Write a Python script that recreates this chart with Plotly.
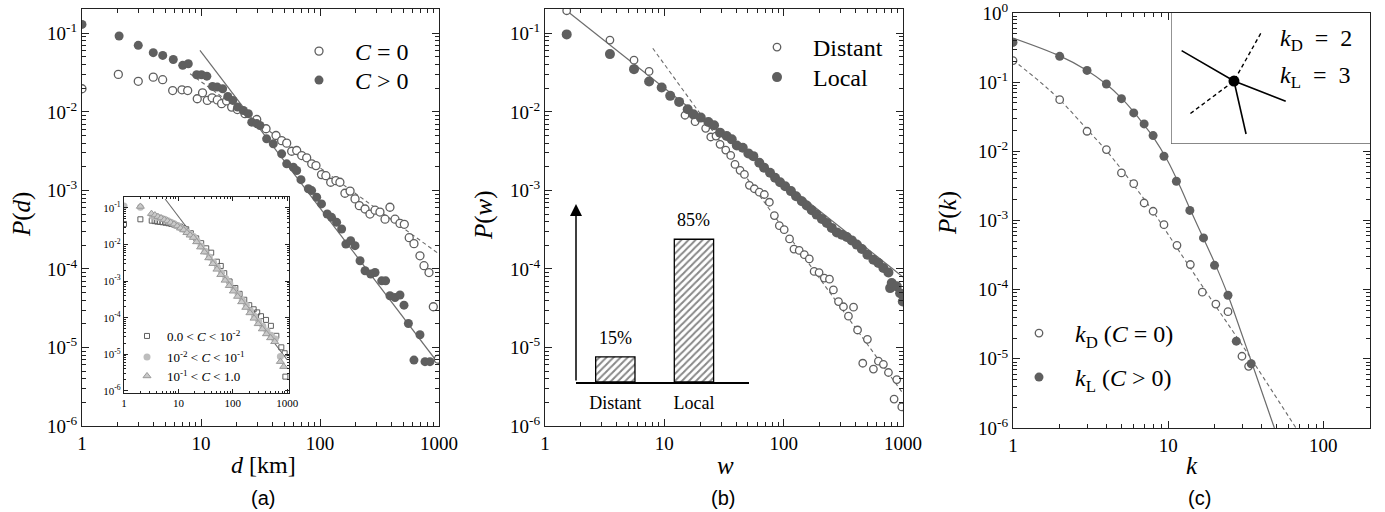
import plotly.graph_objects as go

# ---------------- data: panel (a) ----------------
d_C0 = [1, 2.02, 2.97, 3.97, 4.76, 5.78, 6.92, 7.73, 9.3, 10.3, 11.3, 12.4, 13.7, 14.9, 16.4, 18.1,
        20.2, 23.4, 29.4, 35.2, 42.7, 47.6, 52.5, 57.8, 63.7, 70.2, 77.3, 85.2, 92.5, 103, 112, 123,
        136, 147, 162, 179, 197, 214, 239, 263, 290, 319, 352, 387, 427, 470, 511, 562, 616, 692,
        748, 824, 896, 986]
P_C0 = [0.0197, 0.030, 0.0245, 0.0277, 0.0257, 0.0187, 0.0191, 0.0187, 0.0147, 0.0175, 0.0140,
        0.0151, 0.0142, 0.0127, 0.0138, 0.0115, 0.0107, 0.0095, 0.0080, 0.0061, 0.0050, 0.0043,
        0.0040, 0.00315, 0.00322, 0.00278, 0.0026, 0.00218, 0.00207, 0.00159, 0.00154, 0.00127,
        0.00133, 0.00127, 0.00092, 0.00098, 0.00078, 0.00064, 0.00058, 0.00050, 0.00056, 0.00053,
        0.00043, 0.00061, 0.00043, 0.00038, 0.00037, 0.00025, 0.00021, 0.000147, 0.00011, 0.00009,
        0.000033, 0.0000071]
d_Cpos = [1, 2.05, 2.97, 3.97, 4.77, 5.85, 7.02, 7.82, 9.2, 10.1, 11.2, 12.5, 13.7, 15.2, 16.8, 18.5,
          20.3, 22.7, 25, 26.7, 29.4, 31.3, 35.6, 40.5, 47.6, 52.5, 59.7, 63.7, 69.2, 79.8, 85.1, 93.8,
          103, 115, 125, 138, 152, 165, 181, 197, 217, 239, 267, 290, 330, 356, 387, 427, 470, 508,
          553, 616, 692, 763, 840]
P_Cpos = [0.130, 0.0924, 0.0703, 0.0568, 0.0524, 0.0465, 0.0391, 0.041, 0.0297, 0.0297, 0.0285,
          0.0211, 0.0207, 0.0197, 0.0157, 0.0140, 0.0115, 0.0104, 0.0095, 0.0074, 0.0071, 0.0067,
          0.00454, 0.00392, 0.00292, 0.00218, 0.00197, 0.00179, 0.00137, 0.00105, 0.000995, 0.000817,
          0.000673, 0.000501, 0.000454, 0.000392, 0.000323, 0.000207, 0.000229, 0.000198, 0.000127,
          0.0000948, 0.000086, 0.0000902, 0.0000706, 0.0000706, 0.0000455, 0.0000433, 0.0000465,
          0.0000346, 0.0000202, 0.0000069, 0.0000145, 0.0000066, 0.0000066]
fitA_solid_d = [9.8, 1000]
fitA_solid_P = [0.0607, 6.1e-6]
fitA_dash_d = [8.1, 1000]
fitA_dash_P = [0.0306, 1.55e-4]

# inset of panel (a)
sq_d = [1, 2, 3.23, 3.65, 4.1, 4.6, 5.15, 5.8, 6.55, 7.4, 8.33, 9.4, 10.7, 12.2, 13.9, 16.9, 21.2,
        26.2, 32.4, 40, 50.9, 60, 69.5, 87, 111, 133, 162, 200, 241, 280, 329, 407, 500, 629, 777,
        895, 922]
sq_P = [0.0366, 0.049, 0.045, 0.0437, 0.0423, 0.0415, 0.0406, 0.0395, 0.0382, 0.0367, 0.0351, 0.033,
        0.031, 0.0285, 0.0262, 0.0204, 0.0148, 0.0109, 0.0079, 0.006, 0.0034, 0.0026, 0.00165,
        0.00098, 0.00065, 0.00045, 0.00031, 0.00022, 0.00017, 0.00014, 0.00011, 8.7e-5, 6e-5,
        3.2e-5, 1.55e-5, 1.07e-5, 2.45e-6]
ci_d = [1, 2, 3.3, 3.8, 4.3, 4.9, 5.6, 6.4, 7.3, 8.4, 9.6, 11, 12.6, 14.5, 16.5, 19, 22, 26, 31, 37,
        44, 52, 62, 74, 88, 105, 125, 149, 177, 211, 251, 299, 356, 424, 505, 601, 746]
ci_P = [0.113, 0.105, 0.060, 0.058, 0.055, 0.052, 0.049, 0.045, 0.041, 0.037, 0.033, 0.029, 0.026,
        0.022, 0.019, 0.0165, 0.0127, 0.0091, 0.0066, 0.0046, 0.0033, 0.0024, 0.0017, 0.00118,
        0.00085, 0.0006, 0.00043, 0.0003, 0.00022, 0.000155, 0.00011, 8e-5, 5.8e-5, 4.3e-5, 3.3e-5,
        2.6e-5, 8.7e-6]
tr_d = [2, 3.2, 3.7, 4.2, 4.8, 5.5, 6.3, 7.2, 8.3, 9.5, 10.9, 12.5, 14.3, 16.4, 18.8, 21.6, 25.5, 30,
        36, 43, 51, 60, 72, 86, 102, 122, 145, 173, 206, 245, 292, 348, 414, 493, 587, 746, 859]
tr_P = [0.11, 0.070, 0.064, 0.058, 0.053, 0.048, 0.044, 0.040, 0.036, 0.032, 0.028, 0.025, 0.021,
        0.018, 0.0155, 0.0118, 0.0085, 0.0062, 0.0043, 0.003, 0.0021, 0.0015, 0.00105, 0.00075,
        0.00053, 0.00038, 0.00027, 0.00019, 0.000135, 9.6e-5, 6.8e-5, 4.9e-5, 3.6e-5, 2.8e-5,
        2.2e-5, 6.3e-6, 4.6e-6]
fitIn_d = [5.7, 1000]
fitIn_P = [0.176, 7e-6]

# ---------------- data: panel (b) ----------------
w_D = [1.52, 3.5, 5.57, 7.45, 14.9, 18.1, 22.2, 24.5, 27.1, 29.3, 32.7, 36, 39.1, 43.1, 46.9, 51.6,
       56.8, 62.5, 68.9, 75.9, 83.6, 92, 101, 112, 122, 135, 149, 164, 180, 198, 219, 242, 261, 288,
       317, 349, 385, 416, 460, 503, 565, 622, 685, 755, 842, 887, 977]
P_D = [0.194, 0.082, 0.0456, 0.0327, 0.00906, 0.0075, 0.00618, 0.00479, 0.00492, 0.00386, 0.00326,
       0.00279, 0.00214, 0.0018, 0.0016, 0.00116, 0.00105, 0.00095, 0.000887, 0.000707, 0.000478,
       0.000356, 0.000316, 0.000241, 0.000179, 0.000172, 0.000152, 0.000134, 9.3e-5, 9.0e-5,
       7.65e-5, 7.4e-5, 5.4e-5, 3.84e-5, 3.3e-5, 2.5e-5, 3.26e-5, 1.67e-5, 6.3e-6, 1.27e-5, 5.3e-6,
       6.7e-6, 6.1e-6, 4.8e-6, 2.2e-6, 3.9e-6, 1.75e-6]
w_L = [1.52, 3.5, 5.57, 7.45, 9.5, 11.2, 13.3, 15.7, 17.5, 20.2, 23.4, 26.1, 29.3, 33.3, 36.7, 40.5,
       45.4, 50.6, 55.7, 62.5, 68.5, 76.9, 84.7, 93.3, 103, 115, 127, 142, 156, 172, 189, 209, 230,
       253, 279, 307, 338, 372, 410, 452, 503, 565, 622, 685, 755, 780, 805, 887, 946, 996]
P_L = [0.097, 0.0544, 0.035, 0.0244, 0.0204, 0.0160, 0.0134, 0.0108, 0.0093, 0.00845, 0.00743,
       0.00675, 0.00544, 0.00492, 0.00447, 0.00374, 0.0035, 0.00296, 0.00273, 0.00225, 0.00195,
       0.00168, 0.00145, 0.00127, 0.00113, 0.00098, 0.000844, 0.000728, 0.000641, 0.000558,
       0.000492, 0.000434, 0.000385, 0.000333, 0.000292, 0.000273, 0.000255, 0.000231, 0.000204,
       0.000179, 0.000152, 0.000131, 0.000119, 0.000103, 9.0e-5, 5.7e-5, 6.6e-5, 6.0e-5, 4.9e-5,
       3.85e-5]
fitB_solid_w = [1.52, 1000]
fitB_solid_P = [0.194, 7.9e-5]
fitB_dash_w = [8.0, 1000]
fitB_dash_P = [0.0645, 2.6e-6]

# bar inset of panel (b)
bar_cats = ["Distant", "Local"]
bar_vals = [15, 85]

# ---------------- data: panel (c) ----------------
k_D = [1, 2, 3, 4, 5, 6, 7, 8, 9.4, 11.4, 13.9, 16.6, 20.3, 24.3, 29.9, 33.0]
P_kD = [0.205, 0.0558, 0.0195, 0.0106, 0.00487, 0.00341, 0.00179, 0.00136, 0.00087, 0.000438,
        0.000231, 9.2e-5, 6.2e-5, 4.8e-5, 1.09e-5, 7.8e-6]
k_L = [1, 2, 3, 4, 5, 6, 7, 8, 9.4, 11.3, 13.8, 16.9, 19.9, 24.3, 27.5, 34.3]
P_kL = [0.376, 0.236, 0.148, 0.0942, 0.0578, 0.0359, 0.0249, 0.0169, 0.0085, 0.00369, 0.0014,
        0.00056, 0.000225, 8.3e-5, 1.8e-5, 8.5e-6]
curveL_k = [1, 2, 3, 4, 5, 6, 7, 8, 10, 12, 14, 17, 20, 24.3, 30, 34.3, 48.4]
curveL_P = [0.435, 0.24, 0.148, 0.0933, 0.0589, 0.0372, 0.024, 0.0162, 0.00708, 0.00302, 0.00138,
            0.000537, 0.00024, 8.3e-5, 2.19e-5, 9.3e-6, 1.0e-6]
curveD_k = [1, 1.5, 2, 3, 4, 5, 6, 7, 8, 10, 13.1, 20, 30, 66.7]
curveD_P = [0.209, 0.1, 0.0558, 0.0209, 0.0102, 0.0055, 0.00324, 0.00204, 0.00135, 0.00063,
            0.000251, 6.03e-5, 1.58e-5, 1.0e-6]

# diagram in panel (c) (unit-box coordinates)
diag_solid_x = [0.05, 0.314, 0.575, None, 0.314, 0.375]
diag_solid_y = [0.711, 0.478, 0.322, None, 0.478, 0.071]
diag_dash_x = [0.449, 0.314, 0.084]
diag_dash_y = [0.844, 0.478, 0.217]
diag_node = ([0.314], [0.478])

# ---------------- ticks ----------------
x_ticks_ab = [1, 10, 100, 1000]
x_text_ab = ["1", "10", "100", "1000"]
y_ticks_ab = [1e-6, 1e-5, 1e-4, 1e-3, 1e-2, 1e-1]
y_text_ab = ["10<sup>-6</sup>", "10<sup>-5</sup>", "10<sup>-4</sup>", "10<sup>-3</sup>",
             "10<sup>-2</sup>", "10<sup>-1</sup>"]
x_ticks_c = [1, 10, 100]
x_text_c = ["1", "10", "100"]
y_ticks_c = [1e-6, 1e-5, 1e-4, 1e-3, 1e-2, 1e-1, 1]
y_text_c = ["10<sup>-6</sup>", "10<sup>-5</sup>", "10<sup>-4</sup>", "10<sup>-3</sup>",
            "10<sup>-2</sup>", "10<sup>-1</sup>", "10<sup>0</sup>"]

# ---------------- styling helpers ----------------
W, H = 1385, 512
def fx(p):
    return p / W
def fy(p):
    return 1 - p / H

SERIF = "Liberation Serif"
DARK = "#5f5f5f"
LINEC = "#6c6c6c"
AX = "#222222"
DASH = "4px,3px"


def log_axis(rng, tv, tt, dom, anchor, size=19, tl=7, ml=4):
    return dict(type="log", range=rng, domain=dom, anchor=anchor, tickmode="array", tickvals=tv,
                ticktext=tt, ticks="inside", ticklen=tl, tickwidth=1, tickcolor=AX, showline=True,
                linecolor=AX, linewidth=1.3, mirror="ticks", showgrid=False, zeroline=False,
                automargin=False, ticklabeloverflow="allow",
                tickfont=dict(family=SERIF, size=size, color="black"),
                minor=dict(ticks="inside", ticklen=ml, tickwidth=1, tickcolor=AX, dtick="D1",
                           showgrid=False))


fig = go.Figure()

def open_marker(size=8):
    return dict(symbol="circle", size=size, color="white", line=dict(color=DARK, width=1.3))

def full_marker(size=9):
    return dict(symbol="circle", size=size, color=DARK, line=dict(width=0))

# panel (a)
fig.add_trace(go.Scatter(x=fitA_dash_d, y=fitA_dash_P, mode="lines", xaxis="x", yaxis="y",
                         line=dict(color=LINEC, width=1.1, dash=DASH), showlegend=False))
fig.add_trace(go.Scatter(x=fitA_solid_d, y=fitA_solid_P, mode="lines", xaxis="x", yaxis="y",
                         line=dict(color=LINEC, width=1.2), showlegend=False))
fig.add_trace(go.Scatter(x=d_C0, y=P_C0, mode="markers", xaxis="x", yaxis="y", name="<i>C</i> = 0",
                         marker=open_marker(8), legend="legend"))
fig.add_trace(go.Scatter(x=d_Cpos, y=P_Cpos, mode="markers", xaxis="x", yaxis="y",
                         name="<i>C</i> &gt; 0", marker=full_marker(9), legend="legend2"))

# panel (b)
fig.add_trace(go.Scatter(x=fitB_dash_w, y=fitB_dash_P, mode="lines", xaxis="x2", yaxis="y2",
                         line=dict(color=LINEC, width=1.1, dash=DASH), showlegend=False))
fig.add_trace(go.Scatter(x=fitB_solid_w, y=fitB_solid_P, mode="lines", xaxis="x2", yaxis="y2",
                         line=dict(color=LINEC, width=1.2), showlegend=False))
fig.add_trace(go.Scatter(x=w_D, y=P_D, mode="markers", xaxis="x2", yaxis="y2", name="Distant",
                         marker=open_marker(7.5), legend="legend3"))
fig.add_trace(go.Scatter(x=w_L, y=P_L, mode="markers", xaxis="x2", yaxis="y2", name="Local",
                         marker=full_marker(10), legend="legend4"))

# panel (c)
fig.add_trace(go.Scatter(x=curveD_k, y=curveD_P, mode="lines", xaxis="x3", yaxis="y3",
                         line=dict(color=LINEC, width=1.1, dash=DASH, shape="spline"),
                         showlegend=False))
fig.add_trace(go.Scatter(x=curveL_k, y=curveL_P, mode="lines", xaxis="x3", yaxis="y3",
                         line=dict(color=LINEC, width=1.2, shape="spline"), showlegend=False))
fig.add_trace(go.Scatter(x=k_D, y=P_kD, mode="markers", xaxis="x3", yaxis="y3",
                         name="<i>k</i><sub>D</sub> (<i>C</i> = 0)", marker=open_marker(7.5),
                         legend="legend5"))
fig.add_trace(go.Scatter(x=k_L, y=P_kL, mode="markers", xaxis="x3", yaxis="y3",
                         name="<i>k</i><sub>L</sub> (<i>C</i> &gt; 0)", marker=full_marker(9),
                         legend="legend6"))

# bar inset (b)
fig.add_trace(go.Bar(x=bar_cats, y=bar_vals, xaxis="x4", yaxis="y4", width=0.5, showlegend=False,
                     marker=dict(color="white", line=dict(color="black", width=1.3),
                                 pattern=dict(shape="/", fgcolor="#111", bgcolor="white", size=5,
                                              solidity=0.4))))

# diagram (c)
fig.add_trace(go.Scatter(x=diag_dash_x, y=diag_dash_y, mode="lines", xaxis="x5", yaxis="y5",
                         line=dict(color="black", width=1.4, dash=DASH), showlegend=False))
fig.add_trace(go.Scatter(x=diag_solid_x, y=diag_solid_y, mode="lines", xaxis="x5", yaxis="y5",
                         line=dict(color="black", width=1.6), showlegend=False))
fig.add_trace(go.Scatter(x=diag_node[0], y=diag_node[1], mode="markers", xaxis="x5", yaxis="y5",
                         marker=dict(color="black", size=11), showlegend=False))

# inset (a)
fig.add_trace(go.Scatter(x=fitIn_d, y=fitIn_P, mode="lines", xaxis="x6", yaxis="y6",
                         line=dict(color=LINEC, width=1.1), showlegend=False))
fig.add_trace(go.Scatter(x=sq_d, y=sq_P, mode="markers", xaxis="x6", yaxis="y6",
                         name="0.0 &lt; <i>C</i> &lt; 10<sup>-2</sup>", legend="legend7",
                         marker=dict(symbol="square-open", size=5, color=DARK, line=dict(width=1))))
fig.add_trace(go.Scatter(x=ci_d, y=ci_P, mode="markers", xaxis="x6", yaxis="y6",
                         name="10<sup>-2</sup> &lt; <i>C</i> &lt; 10<sup>-1</sup>", legend="legend8",
                         marker=dict(symbol="circle", size=7, color="#bdbdbd", line=dict(width=0))))
fig.add_trace(go.Scatter(x=tr_d, y=tr_P, mode="markers", xaxis="x6", yaxis="y6",
                         name="10<sup>-1</sup> &lt; <i>C</i> &lt; 1.0", legend="legend9",
                         marker=dict(symbol="triangle-up", size=7, color="#c9c9c9",
                                     line=dict(color="#9a9a9a", width=1))))

ydom_ab = [fy(426), fy(9)]
leg_font = dict(family=SERIF, size=24, color="black")
small_font = dict(family=SERIF, size=13, color="black")


def leg(xpix, ypix, font, iw):
    return dict(x=fx(xpix), y=fy(ypix), xanchor="left", yanchor="top", font=font, itemwidth=iw,
                bgcolor="rgba(0,0,0,0)", borderwidth=0)


fig.update_layout(
    width=W, height=H, margin=dict(l=0, r=0, t=0, b=0, autoexpand=False),
    paper_bgcolor="white", plot_bgcolor="white",
    xaxis=log_axis([0, 3], x_ticks_ab, x_text_ab, [fx(82), fx(439)], "y"),
    yaxis=log_axis([-6, -0.69], y_ticks_ab, y_text_ab, ydom_ab, "x"),
    xaxis2=log_axis([0, 3], x_ticks_ab, x_text_ab, [fx(545), fx(903)], "y2"),
    yaxis2=log_axis([-6, -0.69], y_ticks_ab, y_text_ab, ydom_ab, "x2"),
    xaxis3=log_axis([0, 2.301], x_ticks_c, x_text_c, [fx(1013), fx(1370)], "y3"),
    yaxis3=log_axis([-6, 0], y_ticks_c, y_text_c, [fy(428), fy(13)], "x3"),
    xaxis4=dict(domain=[fx(576), fx(749)], anchor="y4", type="category", range=[-0.5, 1.7],
                showline=True, linecolor="black", linewidth=1.6, ticks="", showgrid=False,
                zeroline=False, automargin=False,
                tickfont=dict(family=SERIF, size=18, color="black"), ticklabelstandoff=4),
    yaxis4=dict(domain=[fy(382), fy(204)], anchor="x4", range=[0, 106], visible=False,
                automargin=False),
    xaxis5=dict(domain=[fx(1171.7), fx(1370)], anchor="y5", range=[0, 1], visible=False,
                automargin=False),
    yaxis5=dict(domain=[fy(143.3), fy(13)], anchor="x5", range=[0, 1], visible=False,
                automargin=False),
    xaxis6=log_axis([0, 3.037], x_ticks_ab, x_text_ab, [fx(124), fx(289.3)], "y6", size=11, tl=4,
                    ml=2),
    yaxis6=log_axis([-6.05, -0.70], y_ticks_ab, y_text_ab, [fy(392.7), fy(197)], "x6", size=11,
                    tl=4, ml=2),
    legend=leg(283, 29, leg_font, 62),
    legend2=leg(283, 58, leg_font, 62),
    legend3=leg(741, 25, leg_font, 62),
    legend4=leg(741, 55, leg_font, 62),
    legend5=leg(1003, 311, leg_font, 62),
    legend6=leg(1003, 355, leg_font, 62),
    legend7=leg(127, 321, small_font, 30),
    legend8=leg(127, 342, small_font, 30),
    legend9=leg(127, 361, small_font, 30),
    shapes=[dict(type="rect", xref="x5 domain", yref="y5 domain", x0=0, x1=1, y0=0, y1=1,
                 fillcolor="#e3e3e3", line=dict(color="#555", width=1.2), layer="below")],
)

ann = []
def text(x, y, s, size=24, family=SERIF, angle=0, xanchor="center"):
    ann.append(dict(x=x, y=y, xref="paper", yref="paper", text=s, showarrow=False, textangle=angle,
                    font=dict(family=family, size=size, color="black"), xanchor=xanchor,
                    yanchor="middle"))

text(fx(22), fy(215), "<i>P</i>(<i>d</i>)", size=25, angle=-90)
text(fx(263), fy(465), "<i>d</i> [km]", size=24)
text(fx(263), fy(498), "(a)", size=20, family="Liberation Sans")
text(fx(484), fy(215), "<i>P</i>(<i>w</i>)", size=25, angle=-90)
text(fx(725), fy(465), "<i>w</i>", size=25)
text(fx(723), fy(498), "(b)", size=20, family="Liberation Sans")
text(fx(948), fy(213), "<i>P</i>(<i>k</i>)", size=25, angle=-90)
text(fx(1192), fy(465), "<i>k</i>", size=25)
text(fx(1199), fy(498), "(c)", size=20, family="Liberation Sans")

# bar value labels
for c, v in zip(bar_cats, bar_vals):
    ann.append(dict(x=c, y=v, xref="x4", yref="y4", text=f"{v}%", showarrow=False, yshift=19,
                    font=dict(family=SERIF, size=18, color="black")))
# arrow (vertical axis of bar inset)
ann.append(dict(x=-0.5, y=106, ax=-0.5, ay=0, xref="x4", yref="y4", axref="x4", ayref="y4",
                text="", showarrow=True, arrowhead=2, arrowsize=1.6, arrowwidth=1.5,
                arrowcolor="black"))
# diagram labels
ann.append(dict(x=0.538, y=0.793, xref="x5", yref="y5", text="<i>k</i><sub>D</sub> &nbsp;= &nbsp;2",
                showarrow=False, xanchor="left", font=dict(family=SERIF, size=24, color="black")))
ann.append(dict(x=0.538, y=0.511, xref="x5", yref="y5", text="<i>k</i><sub>L</sub> &nbsp;= &nbsp;3",
                showarrow=False, xanchor="left", font=dict(family=SERIF, size=24, color="black")))

fig.update_layout(annotations=ann)
fig.write_html("out.html")
